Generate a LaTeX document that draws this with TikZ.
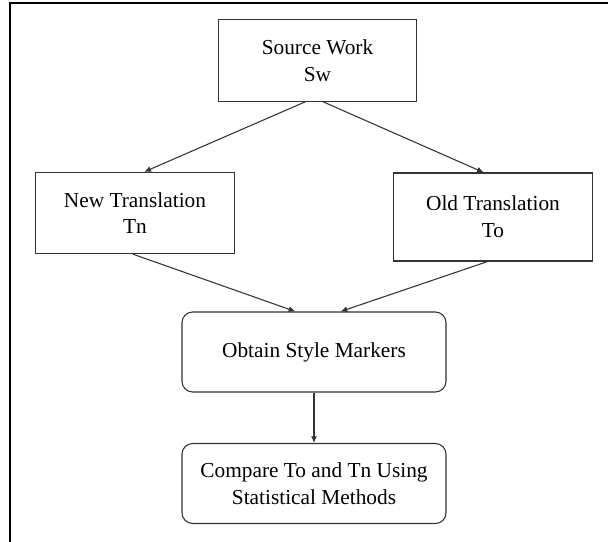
\documentclass[tikz,border=0pt]{standalone}
\usepackage{fontspec}
\setmainfont{Liberation Serif}
\usetikzlibrary{arrows.meta}
\begin{document}
\begin{tikzpicture}[x=0.75pt,y=-0.75pt]
    \useasboundingbox (0,0) rectangle (608,542);
    \draw[line width=1.6pt] (10,542) -- (10,3) -- (608,3);
    \begin{scope}[every node/.style={draw=black!80,line width=0.8pt,align=center,
        font=\fontsize{16}{20}\selectfont,minimum width=149pt,minimum height=61pt}]
      \node (sw) at (317.5,60.5) {Source Work\\Sw};
      \node (tn) at (135,213) {New Translation\\Tn};
      \node[minimum height=66pt] (to) at (493,217) {Old Translation\\To};
    \end{scope}
    \begin{scope}[every node/.style={draw=black!80,line width=0.8pt,rounded corners=8pt,
        align=center,font=\fontsize{16}{20}\selectfont,minimum width=198pt,minimum height=60pt}]
      \node (osm) at (314,352) {Obtain Style Markers};
      \node (cmp) at (314,483.5) {Compare To and Tn Using\\Statistical Methods};
    \end{scope}
    \begin{scope}[every edge/.style={draw=black!80,line width=0.8pt,-{Latex[length=5pt,width=4.5pt]}}]
      \path ([xshift=-9pt]sw.south) edge ([xshift=7pt]tn.north);
      \path ([xshift=4pt]sw.south) edge ([xshift=-7pt]to.north);
      \path ([xshift=-1.5pt]tn.south) edge ([xshift=-14pt]osm.north);
      \path ([xshift=-4pt]to.south) edge ([xshift=20pt]osm.north);
      \path (osm.south) edge (cmp.north);
    \end{scope}
\end{tikzpicture}
\end{document}
